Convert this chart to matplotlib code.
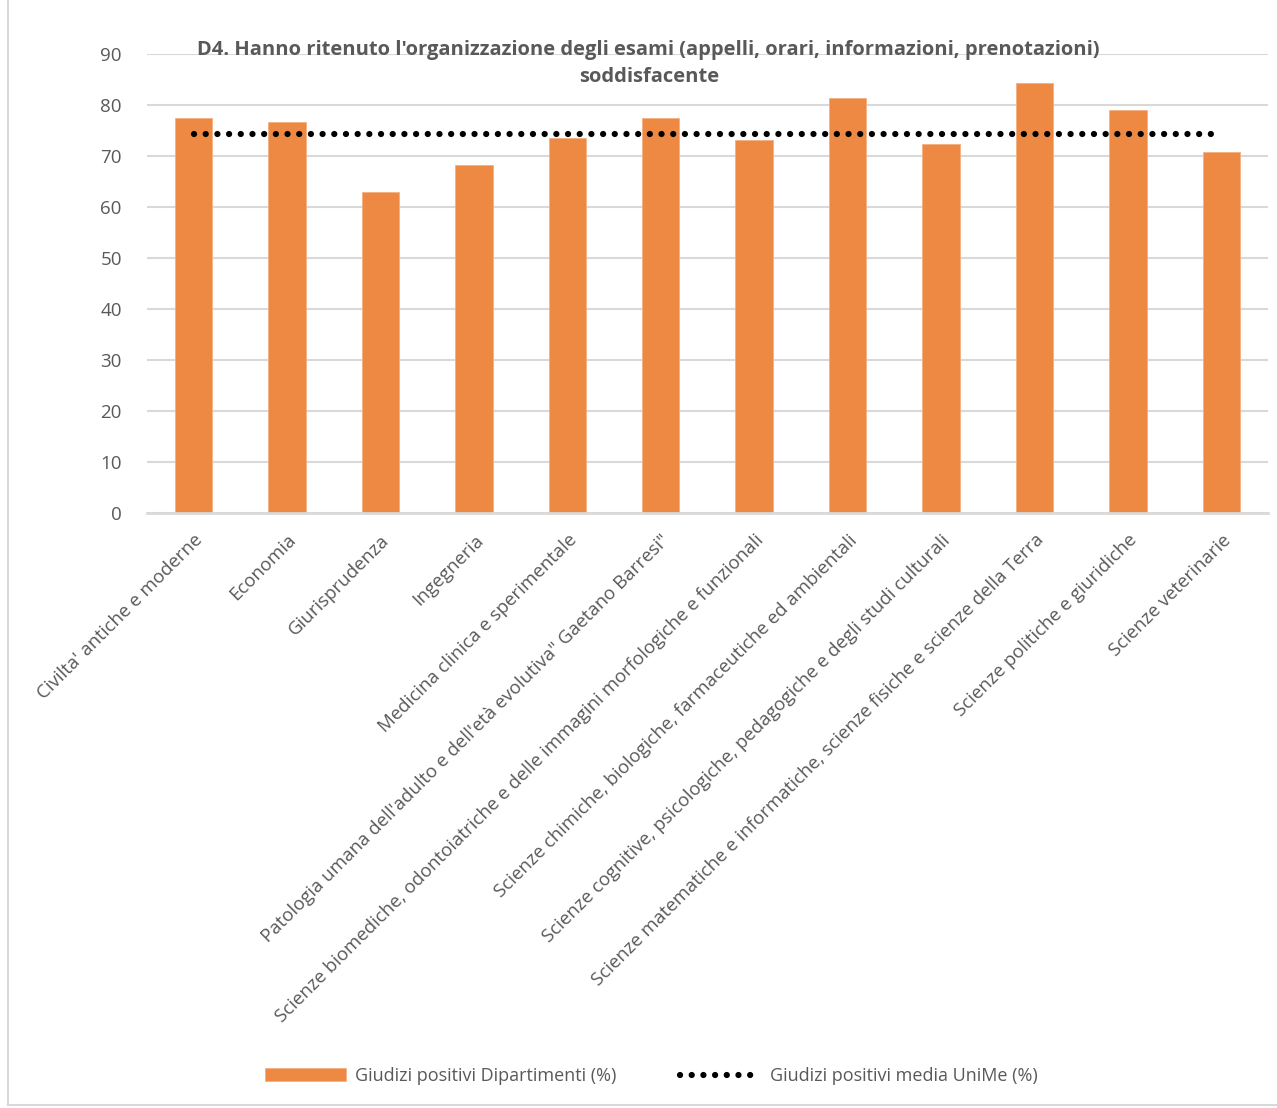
import matplotlib.pyplot as plt
import numpy as np

plt.rcParams['font.family'] = ['Open Sans', 'DejaVu Sans']

dipartimenti = [
    "Civilta' antiche e moderne",
    "Economia",
    "Giurisprudenza",
    "Ingegneria",
    "Medicina clinica e sperimentale",
    "Patologia umana dell'adulto e dell'età evolutiva\" Gaetano Barresi\"",
    "Scienze biomediche, odontoiatriche e delle immagini morfologiche e funzionali",
    "Scienze chimiche, biologiche, farmaceutiche ed ambientali",
    "Scienze cognitive, psicologiche, pedagogiche e degli studi culturali",
    "Scienze matematiche e informatiche, scienze fisiche e scienze della Terra",
    "Scienze politiche e giuridiche",
    "Scienze veterinarie",
]
giudizi_dip = [77.5, 76.7, 63.0, 68.2, 73.5, 77.5, 73.2, 81.5, 72.4, 84.4, 79.0, 70.8]
media_unime = [74.3] * len(dipartimenti)

TEXT = '#595959'
GRID = '#d9d9d9'

fig = plt.figure(figsize=(12.77, 11.08), dpi=100)
ax = fig.add_axes([0.115, 0.537, 0.878, 0.414])

x = np.arange(len(dipartimenti))
bars = ax.bar(x, giudizi_dip, width=0.4, color='#EE8944', edgecolor='#F4B183', linewidth=0.6,
              label='Giudizi positivi Dipartimenti (%)', zorder=2)
line, = ax.plot(x, media_unime, color='black', linewidth=4.5, linestyle=(0, (0.01, 1.86)),
                dash_capstyle='round', label='Giudizi positivi media UniMe (%)', zorder=3)

ax.set_xlim(-0.5, len(dipartimenti) - 0.5)
ax.set_ylim(0, 90)
ax.set_yticks(range(0, 91, 10))
ax.yaxis.grid(True, color=GRID, linewidth=1.5, zorder=0)
ax.set_axisbelow(True)
for s in ['top', 'right', 'left']:
    ax.spines[s].set_visible(False)
ax.spines['bottom'].set_color(GRID)
ax.spines['bottom'].set_linewidth(2)
ax.tick_params(axis='both', length=0, colors=TEXT, labelsize=13.5)
ax.tick_params(axis='y', pad=18)
ax.tick_params(axis='x', pad=13)
ax.set_xticks(x)
ax.set_xticklabels(dipartimenti, rotation=45, ha='right', va='top', rotation_mode='anchor', fontsize=13.4)

fig.text(0.508, 0.9425, "D4. Hanno ritenuto l'organizzazione degli esami (appelli, orari, informazioni, prenotazioni)\nsoddisfacente",
         ha='center', va='center', fontsize=14.5, fontweight='bold', color=TEXT, linespacing=1.5)

leg = fig.legend([bars, line], ['Giudizi positivi Dipartimenti (%)', 'Giudizi positivi media UniMe (%)'],
                 loc='center', bbox_to_anchor=(0.51, 0.029), ncol=2, frameon=False,
                 fontsize=13, handlelength=4.5, columnspacing=3.5, handletextpad=0.5)
for t in leg.get_texts():
    t.set_color(TEXT)

# chart frame
fig.add_artist(plt.Line2D([0.0063, 0.0063], [0.003, 1.0], color=GRID, linewidth=1.5))
fig.add_artist(plt.Line2D([0.0063, 1.0], [0.003, 0.003], color=GRID, linewidth=1.5))

fig.savefig('out.png', dpi=100)
